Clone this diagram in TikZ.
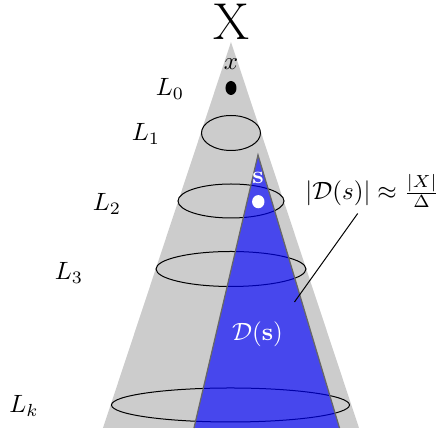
\documentclass[tikz,border=0pt]{standalone}
\usepackage{amsmath}
\begin{document}
\begin{tikzpicture}[x=0.4pt,y=-0.4pt,
  lvl/.style={draw=black,line width=0.4pt},
  lab/.style={inner sep=0pt},
  whitetxt/.style={text=white,inner sep=0pt}]
\useasboundingbox (0,0) rectangle (443,432);
% gray cone
\fill[black!20] (231,42) -- (359,428) -- (103,428) -- cycle;
% levels
\draw[lvl] (231,133) ellipse [x radius=29.5, y radius=17.5];
\draw[lvl] (231,201) ellipse [x radius=53, y radius=17];
\draw[lvl] (231,269) ellipse [x radius=75, y radius=17.5];
\draw[lvl] (230.5,405) ellipse [x radius=119, y radius=17];
% blue cone
\fill[blue,fill opacity=0.65] (258,155) -- (339.5,428) -- (194,428) -- cycle;
\draw[black!60,line width=0.5pt] (194,428) -- (258,155) -- (339.5,428);
% dots
\fill[black] (231,88) ellipse [x radius=5.5, y radius=7];
\fill[white] (258.3,201.7) ellipse [x radius=6.2, y radius=6.6];
% labels
\node[lab] (X) at (231,22) {\huge X};
\node[lab] (x) at (231,64) {$x$};
\node[lab] (L0) at (170,89) {$L_0$};
\node[lab] (L1) at (146,134) {$L_1$};
\node[lab] (L2) at (107,204) {$L_2$};
\node[lab] (L3) at (69,273) {$L_3$};
\node[lab] (Lk) at (24,406) {$L_k$};
\node[whitetxt] (s) at (258,178) {$\mathbf{s}$};
\node[whitetxt] (Ds) at (257.5,334) {$\mathcal{D}(\mathbf{s})$};
\node[lab,anchor=west] (size) at (305,191) {\fontsize{10.3}{12}\selectfont$|\mathcal{D}(s)| \approx \frac{|X|}{\Delta}$};
\coordinate (p1) at (357.7,213.5);
\coordinate (p2) at (294.5,302);
\draw[line width=0.4pt] (p1) -- (p2);
\end{tikzpicture}
\end{document}
